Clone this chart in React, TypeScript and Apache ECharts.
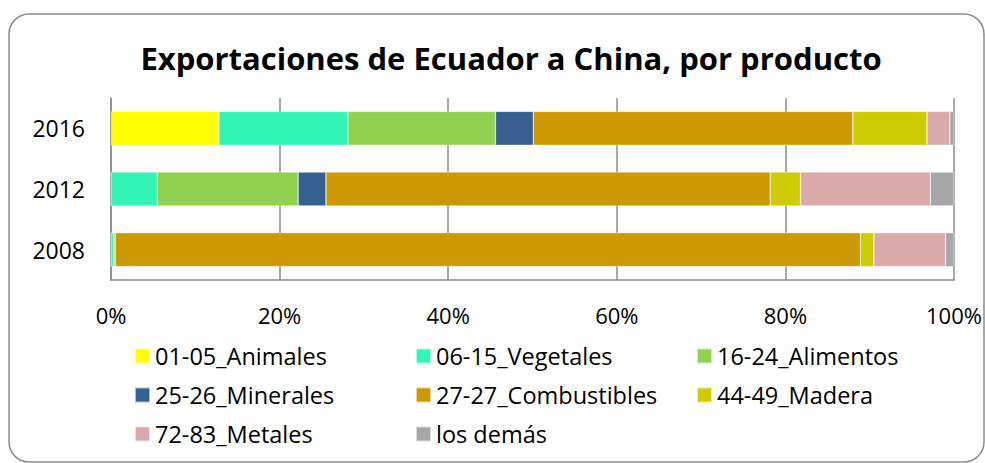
import React, { useEffect, useRef } from "react";
import * as echarts from "echarts";

const years = ["2008", "2012", "2016"];
const xTickLabels = ["0%", "20%", "40%", "60%", "80%", "100%"];

const seriesNames = [
  "01-05_Animales",
  "06-15_Vegetales",
  "16-24_Alimentos",
  "25-26_Minerales",
  "27-27_Combustibles",
  "44-49_Madera",
  "72-83_Metales",
  "los demás",
];

// values in % per year [2008, 2012, 2016]
const animales = [0, 0, 12.8];
const vegetales = [0.3, 5.5, 15.3];
const alimentos = [0.2, 16.7, 17.5];
const minerales = [0, 3.3, 4.5];
const combustibles = [88.4, 52.7, 37.9];
const madera = [1.6, 3.6, 8.8];
const metales = [8.5, 15.4, 2.7];
const losDemas = [1.0, 2.8, 0.5];

const seriesValues = [animales, vegetales, alimentos, minerales, combustibles, madera, metales, losDemas];

const colors = ["#FFFF00", "#31F4B7", "#92D050", "#366092", "#CC9900", "#CCCC00", "#DAAAAA", "#A6A6A6"];

const legendColumns = [
  [seriesNames[0], seriesNames[3], seriesNames[6]],
  [seriesNames[1], seriesNames[4], seriesNames[7]],
  [seriesNames[2], seriesNames[5]],
];

const FONT = "'Open Sans', sans-serif";

export default function App() {
  const ref = useRef<HTMLDivElement>(null);

  useEffect(() => {
    if (!ref.current) return;
    const chart = echarts.init(ref.current, null, { renderer: "svg" });
    const legendLefts = [129, 410, 691];
    chart.setOption({
      animation: false,
      backgroundColor: "#ffffff",
      color: colors,
      title: {
        text: "Exportaciones de Ecuador a China, por producto",
        left: 506,
        top: 37,
        textAlign: "center",
        textStyle: { fontFamily: FONT, fontWeight: "bold", fontSize: 31, color: "#000" },
      },
      graphic: [
        {
          type: "rect",
          shape: { x: 9, y: 14, width: 975, height: 448, r: 20 },
          style: { fill: "none", stroke: "#8c8c8c", lineWidth: 1.5 },
          silent: true,
          z: -1,
        },
      ],
      legend: legendColumns.map((col, i) => ({
        data: col,
        orient: "vertical",
        left: legendLefts[i],
        top: 339,
        itemWidth: 15,
        itemHeight: 15,
        itemGap: 15,
        icon: "rect",
        selectedMode: false,
        textStyle: { fontFamily: FONT, fontSize: 23.5, color: "#000", lineHeight: 22.5 },
      })),
      grid: { left: 111, right: 31, top: 98, height: 182, outerBoundsMode: "none", containLabel: false },
      xAxis: {
        type: "value",
        min: 0,
        max: 100,
        interval: 20,
        axisLine: { show: true, lineStyle: { color: "#8c8c8c", width: 1.5 } },
        axisTick: { show: false },
        splitLine: { show: true, lineStyle: { color: "#8c8c8c", width: 1.5 } },
        axisLabel: {
          margin: 24,
          fontFamily: FONT,
          fontSize: 22,
          color: "#000",
          formatter: (v: number) => xTickLabels[Math.round(v / 20)],
        },
      },
      yAxis: {
        type: "category",
        data: years,
        axisLine: { show: true, lineStyle: { color: "#8c8c8c", width: 1.5 } },
        axisTick: { show: false },
        axisLabel: { margin: 26, fontFamily: FONT, fontSize: 23, color: "#000" },
      },
      series: seriesNames.map((name, i) => ({
        name,
        type: "bar",
        stack: "total",
        data: seriesValues[i],
        barCategoryGap: "44%",
        itemStyle: { color: colors[i], borderColor: "rgba(255,255,255,0.6)", borderWidth: 0.6 },
      })),
    });
    return () => chart.dispose();
  }, []);

  return (
    <div
      ref={ref}
      style={{ position: "fixed", left: 0, top: 0, width: 985, height: 463 }}
    />
  );
}
